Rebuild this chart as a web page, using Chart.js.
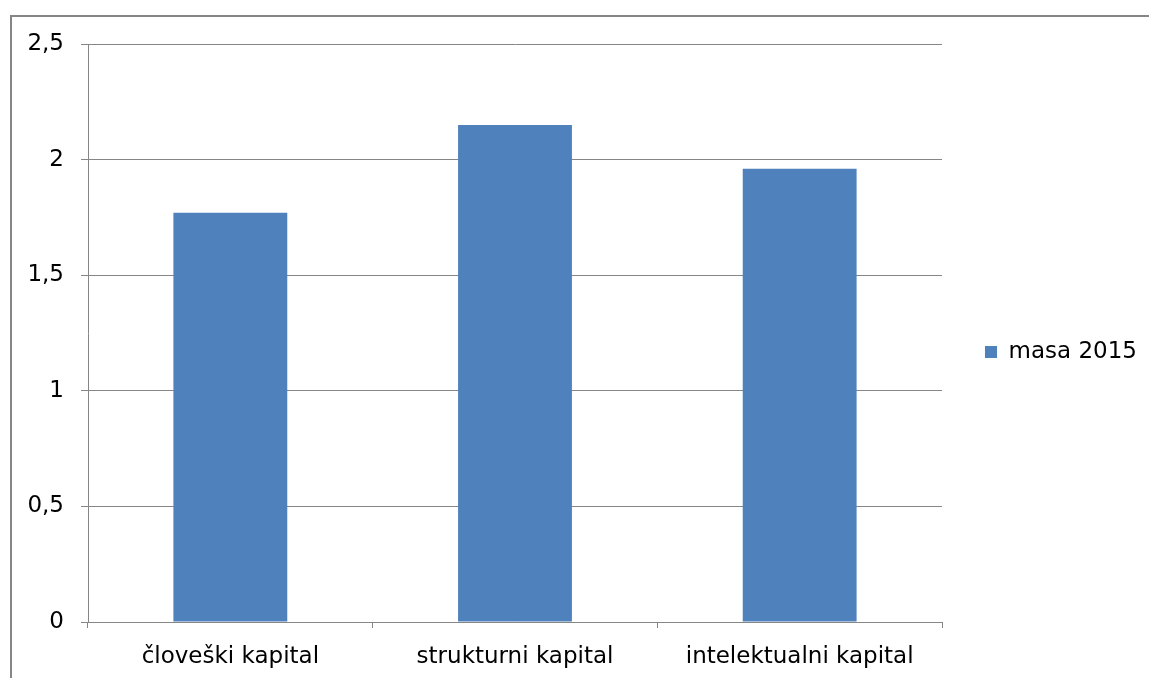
<!DOCTYPE html>
<html lang="sl">
<head>
    <meta charset="UTF-8">
    <title>masa 2015</title>
    <script src="https://cdn.jsdelivr.net/npm/chart.js"></script>
    <style>
        body {
            margin: 0;
            padding: 0;
            background: #fff;
        }
        canvas {
            display: block;
        }
    </style>
</head>
<body>
    <canvas id="barChart" width="1149" height="678"></canvas>

    <script>
        const categories = ['človeški kapital', 'strukturni kapital', 'intelektualni kapital'];
        const seriesName = 'masa 2015';
        const seriesValues = [1.77, 2.15, 1.96];
        const tickLabels = ['0', '0,5', '1', '1,5', '2', '2,5'];

        const gray = '#868686';
        const fontFamily = '"DejaVu Sans", sans-serif';

        // okvir okrog grafikona (desni in spodnji rob sta odrezana)
        const framePlugin = {
            id: 'frame',
            beforeDraw(chart) {
                const c = chart.ctx;
                c.save();
                c.strokeStyle = gray;
                c.lineWidth = 2;
                c.strokeRect(11, 16, 2000, 2000);
                c.restore();
            }
        };

        // fiksna širina legende, da se območje grafa konča pri x=942
        const legendWidthPlugin = {
            id: 'legendWidth',
            afterInit(chart) {
                const legend = chart.legend;
                const origFit = legend.fit;
                legend.fit = function () {
                    origFit.call(this);
                    this.width = 207;
                };
            },
            afterLayout(chart) {
                // legenda malo višje, kot v originalu
                chart.legend.top -= 9;
                chart.legend.bottom -= 9;
            }
        };

        const ctx = document.getElementById('barChart').getContext('2d');
        const barChart = new Chart(ctx, {
            type: 'bar',
            data: {
                labels: categories,
                datasets: [{
                    label: seriesName,
                    data: seriesValues,
                    backgroundColor: '#4F81BD',
                    borderWidth: 0,
                    categoryPercentage: 1,
                    barPercentage: 0.4
                }]
            },
            options: {
                responsive: false,
                animation: false,
                layout: {
                    padding: { top: 44, left: 0, right: 0, bottom: 0 }
                },
                scales: {
                    x: {
                        afterFit(scale) { scale.height = 56; },
                        grid: {
                            offset: true,
                            drawOnChartArea: false,
                            drawTicks: true,
                            tickLength: 6,
                            color: gray
                        },
                        border: { color: gray, width: 1 },
                        ticks: {
                            color: '#000',
                            padding: 15,
                            font: { family: fontFamily, size: 23 },
                            maxRotation: 0
                        }
                    },
                    y: {
                        min: 0,
                        max: 2.5,
                        afterFit(scale) { scale.width = 88; },
                        grid: {
                            color: gray,
                            tickLength: 7
                        },
                        border: { color: gray, width: 1 },
                        ticks: {
                            stepSize: 0.5,
                            color: '#000',
                            padding: 17,
                            font: { family: fontFamily, size: 23 },
                            callback: (value, index) => tickLabels[index]
                        }
                    }
                },
                plugins: {
                    legend: {
                        position: 'right',
                        labels: {
                            boxWidth: 12,
                            boxHeight: 12,
                            padding: 43,
                            color: '#000',
                            font: { family: fontFamily, size: 23 }
                        }
                    },
                    tooltip: { enabled: false }
                }
            },
            plugins: [framePlugin, legendWidthPlugin]
        });
    </script>
</body>
</html>
